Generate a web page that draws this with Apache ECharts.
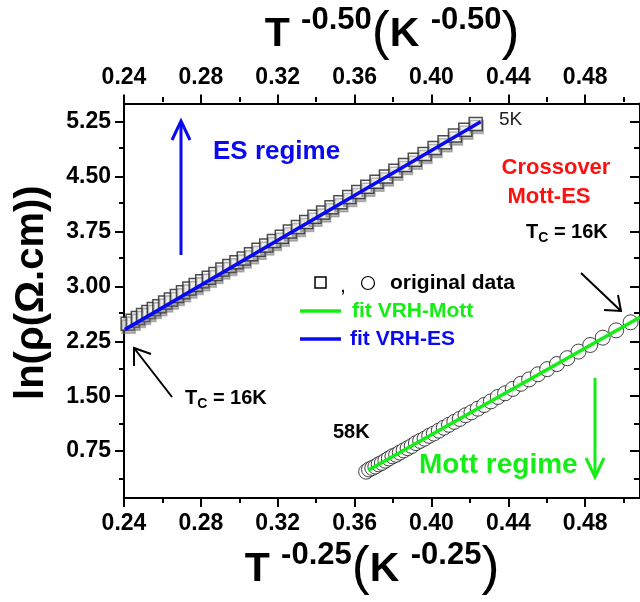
<!DOCTYPE html>
<html>
<head>
<meta charset="utf-8">
<script src="https://cdn.jsdelivr.net/npm/echarts@6/dist/echarts.min.js"></script>
<style>
  html, body { margin: 0; padding: 0; background: #fff; }
  #chart { width: 640px; height: 602px; }
</style>
</head>
<body>
<div id="chart"></div>
<script>
// axis ranges and ticks
const xMin = 0.24, xMax = 0.5085;
const yMin = 0.11, yMax = 5.5;
const xTicks = [0.24, 0.28, 0.32, 0.36, 0.40, 0.44, 0.48];
const xMinorTicks = [0.26, 0.30, 0.34, 0.38, 0.42, 0.46, 0.50];
const yTicks = [0.75, 1.50, 2.25, 3.00, 3.75, 4.50, 5.25];
const yMinorTicks = [0.375, 1.125, 1.875, 2.625, 3.375, 4.125, 4.875];

// ES regime data (squares, plotted against T^-0.50)
const esX = [0.2419, 0.2445, 0.2472, 0.2499, 0.2527, 0.2555, 0.2584, 0.2614, 0.2644, 0.2675,
  0.2707, 0.2740, 0.2773, 0.2807, 0.2841, 0.2876, 0.2912, 0.2948, 0.2985, 0.3023,
  0.3061, 0.3100, 0.3140, 0.3180, 0.3221, 0.3263, 0.3305, 0.3348, 0.3391, 0.3436,
  0.3480, 0.3526, 0.3572, 0.3619, 0.3666, 0.3714, 0.3763, 0.3812, 0.3862, 0.3913,
  0.3964, 0.4016, 0.4068, 0.4122, 0.4176, 0.4230];
const esY = [2.49, 2.53, 2.57, 2.61, 2.65, 2.69, 2.73, 2.78, 2.82, 2.87,
  2.92, 2.97, 3.02, 3.07, 3.12, 3.17, 3.23, 3.28, 3.33, 3.38,
  3.44, 3.50, 3.56, 3.62, 3.68, 3.75, 3.81, 3.88, 3.95, 4.01,
  4.08, 4.15, 4.22, 4.29, 4.36, 4.43, 4.50, 4.58, 4.66, 4.73,
  4.81, 4.89, 4.97, 5.06, 5.14, 5.22];

// Mott regime data (circles, plotted against T^-0.25)
const mottX = [0.3660, 0.3675, 0.3692, 0.3708, 0.3725, 0.3742, 0.3760, 0.3778, 0.3797, 0.3816,
  0.3835, 0.3855, 0.3876, 0.3897, 0.3919, 0.3941, 0.3964, 0.3988, 0.4012, 0.4038,
  0.4064, 0.4091, 0.4119, 0.4147, 0.4177, 0.4208, 0.4241, 0.4274, 0.4309, 0.4345,
  0.4383, 0.4423, 0.4465, 0.4508, 0.4554, 0.4602, 0.4653, 0.4707, 0.4765, 0.4826,
  0.4891, 0.4961, 0.5036];
const mottY = [0.47, 0.50, 0.52, 0.54, 0.57, 0.59, 0.62, 0.65, 0.68, 0.70,
  0.73, 0.76, 0.79, 0.82, 0.86, 0.89, 0.92, 0.96, 0.99, 1.03,
  1.07, 1.11, 1.15, 1.19, 1.24, 1.28, 1.33, 1.38, 1.43, 1.49,
  1.54, 1.60, 1.67, 1.73, 1.80, 1.87, 1.94, 2.02, 2.11, 2.20,
  2.30, 2.40, 2.51];

// fitted lines
const esFitX = [0.2404, 0.4256];
const esFitY = [2.41, 5.25];
const mottFitX = [0.3671, 0.5085];
const mottFitY = [0.49, 2.58];

const FONT = '"Liberation Sans", Arial, sans-serif';
const BLUE = '#0a0af0';
const GREEN = '#14ee14';
const RED = '#ff1010';

const zip = (xs, ys) => xs.map((x, i) => [x, ys[i]]);
const fmt = v => v.toFixed(2);

const titleRich = {
  b: { fontSize: 41, fontWeight: 'bold', fontFamily: FONT, color: '#000' },
  s: { fontSize: 31, fontWeight: 'bold', fontFamily: FONT, color: '#000', padding: [0, 0, 28, 0] },
  p: { fontSize: 54, fontFamily: FONT, color: '#000' }
};

function majorX(pos, withName) {
  const ax = {
    type: 'value', gridIndex: 0, position: pos, min: xMin, max: xMax,
    axisLine: { show: true, onZero: false, lineStyle: { color: '#000', width: 2 } },
    axisTick: { show: true, customValues: xTicks, length: 9, inside: false, lineStyle: { color: '#000', width: 2 } },
    axisLabel: { show: true, customValues: xTicks, formatter: fmt, margin: 14,
      fontSize: 23, fontWeight: 'bold', fontFamily: FONT, color: '#000' },
    splitLine: { show: false }
  };
  if (withName) {
    ax.name = withName;
    ax.nameLocation = 'middle';
    ax.nameTextStyle = { rich: titleRich };
  }
  return ax;
}

function minorX(pos) {
  return {
    type: 'value', gridIndex: 1, position: pos, min: xMin, max: xMax,
    axisLine: { show: false, onZero: false },
    axisTick: { show: true, customValues: xMinorTicks, length: 5, inside: false, lineStyle: { color: '#000', width: 2 } },
    axisLabel: { show: false },
    splitLine: { show: false }
  };
}

function yAx(grid, pos, ticks, len, inside, labels) {
  return {
    type: 'value', gridIndex: grid, position: pos, min: yMin, max: yMax,
    axisLine: { show: grid === 0, onZero: false, lineStyle: { color: '#000', width: 2 } },
    axisTick: { show: true, customValues: ticks, length: len, inside: inside, lineStyle: { color: '#000', width: 2 } },
    axisLabel: labels ? { show: true, customValues: ticks, formatter: fmt, margin: 13,
      fontSize: 23, fontWeight: 'bold', fontFamily: FONT, color: '#000' } : { show: false },
    splitLine: { show: false }
  };
}

const xBottom = majorX('bottom', '{b|T }{s|-0.25}{p|(}{b|K }{s|-0.25}{p|)}');
xBottom.nameGap = 38;
xBottom.nameTextStyle.padding = [0, 20, 0, 0];
const xTop = majorX('top', '{b|T }{s|-0.50}{p|(}{b|K }{s|-0.50}{p|)}');
xTop.nameGap = 34;
xTop.nameTextStyle.padding = [0, 0, 0, 20];

const yLeft = yAx(0, 'left', yTicks, 9, false, true);
yLeft.name = 'ln(ρ(Ω.cm))';
yLeft.nameLocation = 'middle';
yLeft.nameGap = 72;
yLeft.nameTextStyle = { fontSize: 40, fontWeight: 'bold', fontFamily: FONT, color: '#000', padding: [0, 0, 0, 16] };

const chart = echarts.init(document.getElementById('chart'), null, { renderer: 'canvas' });

function txt(x, y, text, font, color, extra) {
  return Object.assign({
    type: 'text', x: x, y: y, z: 100,
    style: Object.assign({ text: text, font: font, fill: color, align: 'left', verticalAlign: 'middle' }, extra || {})
  });
}
function line(points, color, width) {
  return { type: 'polyline', z: 100, shape: { points: points }, style: { stroke: color, lineWidth: width, fill: null } };
}
const tcRich = {
  a: { font: 'bold 20px ' + FONT, fill: '#000' },
  c: { font: 'bold 14px ' + FONT, fill: '#000', padding: [12, 0, 0, 0] }
};

chart.setOption({
  animation: false,
  backgroundColor: '#fff',
  grid: [
    { left: 124, right: -1, top: 102, bottom: 104, containLabel: false },
    { left: 124, right: -1, top: 102, bottom: 104, containLabel: false }
  ],
  xAxis: [xBottom, xTop, minorX('bottom'), minorX('top')],
  yAxis: [
    yLeft,
    yAx(0, 'right', yTicks, 10, true, false),
    yAx(1, 'left', yMinorTicks, 5, false, false),
    yAx(1, 'right', yMinorTicks, 6, true, false)
  ],
  series: [
    {
      name: 'ES data', type: 'scatter', xAxisIndex: 0, yAxisIndex: 0,
      data: zip(esX, esY), symbol: 'rect', symbolSize: 13, z: 2,
      itemStyle: { color: '#fff', borderColor: '#222', borderWidth: 1.5,
        shadowColor: 'rgba(110,110,110,0.6)', shadowOffsetX: 1, shadowOffsetY: 3, shadowBlur: 0 }
    },
    {
      name: 'Mott data', type: 'scatter', xAxisIndex: 0, yAxisIndex: 0,
      data: zip(mottX, mottY), symbol: 'circle', symbolSize: 15, z: 2,
      itemStyle: { color: '#fff', borderColor: '#111', borderWidth: 1 }
    },
    {
      name: 'fit VRH-ES', type: 'line', xAxisIndex: 0, yAxisIndex: 0,
      data: zip(esFitX, esFitY), showSymbol: false, z: 3,
      lineStyle: { color: BLUE, width: 3.5 }
    },
    {
      name: 'fit VRH-Mott', type: 'line', xAxisIndex: 0, yAxisIndex: 0,
      data: zip(mottFitX, mottFitY), showSymbol: false, z: 3,
      lineStyle: { color: GREEN, width: 3.5 }
    }
  ],
  graphic: [
    // ES regime annotation
    txt(213, 152, 'ES regime', 'bold 26px ' + FONT, BLUE),
    line([[181, 255], [181, 122]], BLUE, 3),
    line([[172, 140], [181, 121], [190, 140]], BLUE, 3),
    txt(499, 120, '5K', '19px ' + FONT, '#222'),
    // crossover
    txt(556, 168, 'Crossover', 'bold 22px ' + FONT, RED, { align: 'center' }),
    txt(549, 197, 'Mott-ES', 'bold 22px ' + FONT, RED, { align: 'center' }),
    txt(526, 232, '{a|T}{c|C}{a| = 16K}', '', '#000', { rich: tcRich }),
    line([[581, 273], [621, 311]], '#000', 2),
    line([[604, 310], [621, 311], [618, 295]], '#000', 2),
    // legend
    { type: 'rect', z: 100, shape: { x: 315, y: 277, width: 11, height: 11 }, style: { fill: '#fff', stroke: '#000', lineWidth: 1.5 } },
    txt(341, 288, ',', 'bold 14px ' + FONT, '#000'),
    { type: 'circle', z: 100, shape: { cx: 368, cy: 283, r: 6.5 }, style: { fill: '#fff', stroke: '#000', lineWidth: 1.2 } },
    txt(390, 283, 'original data', 'bold 21px ' + FONT, '#000'),
    line([[300, 311], [341, 311]], GREEN, 3.5),
    txt(352, 311, 'fit VRH-Mott', 'bold 21px ' + FONT, GREEN),
    line([[300, 339], [341, 339]], BLUE, 3.5),
    txt(350, 339, 'fit VRH-ES', 'bold 21px ' + FONT, BLUE),
    // Mott regime annotation
    txt(333, 432, '58K', 'bold 20px ' + FONT, '#000'),
    txt(419, 465, 'Mott regime', 'bold 28px ' + FONT, GREEN),
    line([[595, 378], [595, 476]], GREEN, 3),
    line([[586, 458], [595, 477], [604, 458]], GREEN, 3),
    // lower Tc annotation
    txt(185, 398, '{a|T}{c|C}{a| = 16K}', '', '#000', { rich: tcRich }),
    line([[172, 397], [134, 348]], '#000', 2),
    line([[134, 366], [134, 348], [151, 354]], '#000', 2)
  ]
});
</script>
</body>
</html>
